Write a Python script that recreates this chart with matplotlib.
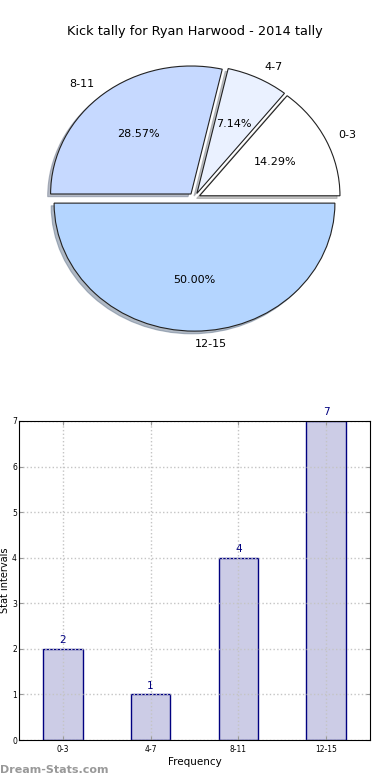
import numpy as np
import matplotlib
matplotlib.use("Agg")
import matplotlib.pyplot as plt

# tally data
intervals = ["0-3", "4-7", "8-11", "12-15"]
counts = [2, 1, 4, 7]
pie_colors = ["#ffffff", "#eaf1ff", "#c6d9ff", "#b4d5ff"]

fig = plt.figure(figsize=(3.9, 7.8), dpi=100)

# pie (not equal aspect, so it comes out as an ellipse)
ax1 = fig.add_axes([19/390, 1 - 358/780, 351/390, 320/780])
ax1.pie(counts, labels=intervals, colors=pie_colors, autopct="%.2f%%",
        explode=[0.04]*4, startangle=0, frame=False,
        shadow=dict(ox=-0.015, oy=-0.015, shade=0.45),
        wedgeprops=dict(edgecolor="#222222", linewidth=0.8),
        textprops=dict(fontsize=8))
ax1.set_aspect("auto")
ax1.set_xlim(-1.25, 1.25)
ax1.set_ylim(-1.25, 1.25)
ax1.set_title("Kick tally for Ryan Harwood - 2014 tally", fontsize=9.3, pad=2)

# bars
ax2 = fig.add_axes([19/390, 40/780, 351/390, 319/780])
x = np.arange(len(intervals))
bars = ax2.bar(x, counts, width=0.45, color="#ccccE6", edgecolor="#000080",
               linewidth=1.0, zorder=2)
for xi, c in zip(x, counts):
    ax2.text(xi, c + 0.08, str(c), ha="center", va="bottom",
             color="#000080", fontsize=7.5)
ax2.set_xlim(-0.5, 3.5)
ax2.set_ylim(0, 7)
ax2.set_xticks(x)
ax2.set_xticklabels(intervals)
ax2.set_yticks(range(8))
ax2.tick_params(labelsize=5.5, direction="in", length=3, color="#999999",
                top=True, right=True)
ax2.tick_params(axis="y", pad=1.5)
ax2.grid(True, linestyle=":", color="#c4c4c4", linewidth=1.0)
ax2.set_axisbelow(False)
for sp in ax2.spines.values():
    sp.set_zorder(4)
ax2.set_xlabel("Frequency", fontsize=7.5, labelpad=2)
ax2.set_ylabel("Stat intervals", fontsize=7)
ax2.yaxis.set_label_coords(-0.025, 0.5)

fig.text(0.0, 10/780, "Dream-Stats.com", fontsize=8, fontweight="bold",
         color="#999999", va="center", ha="left")

fig.savefig("out.png", dpi=100)
